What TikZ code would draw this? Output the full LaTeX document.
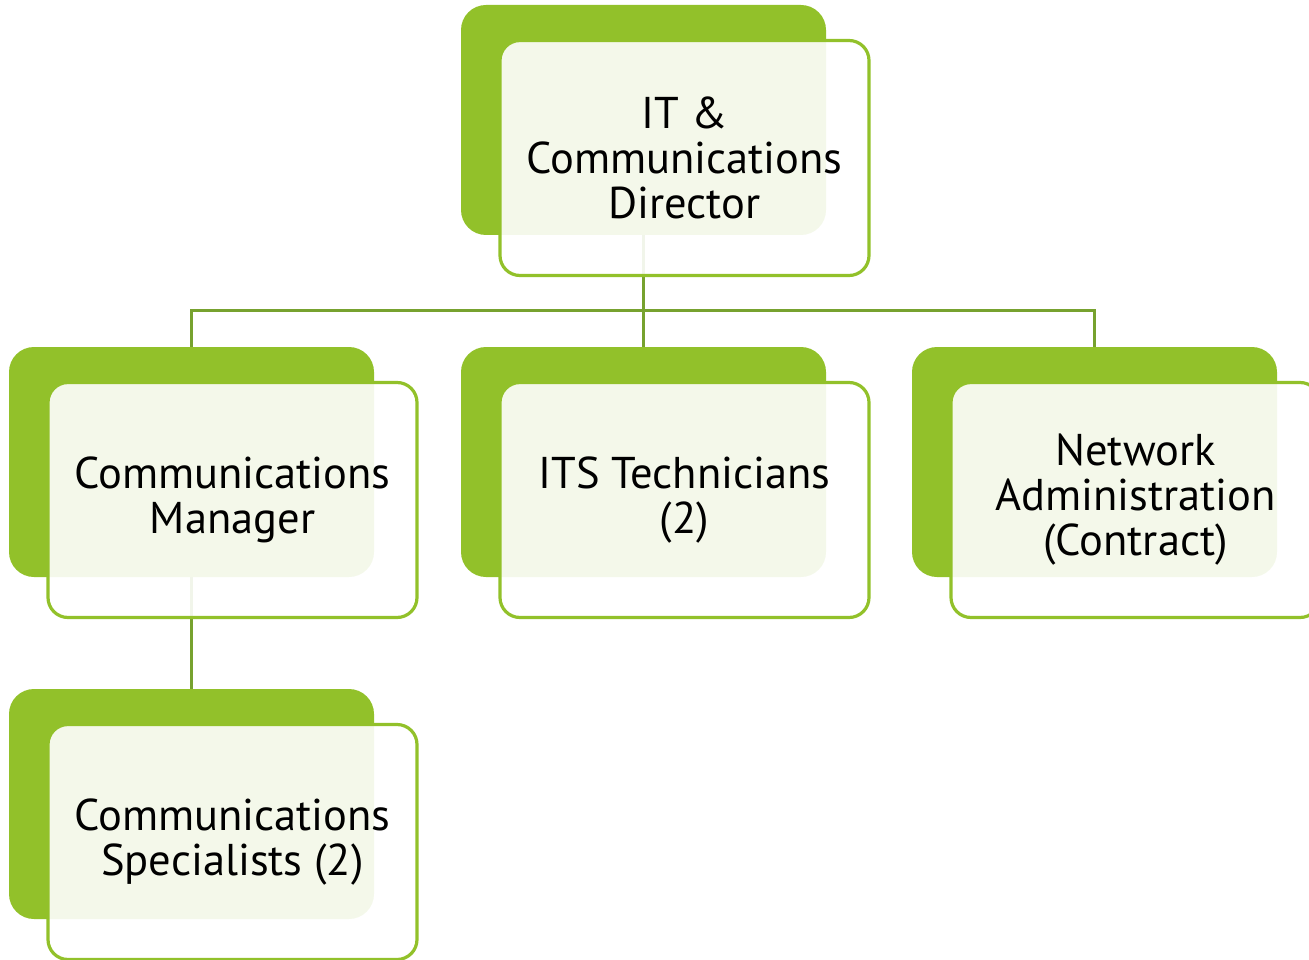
\documentclass[tikz,border=0pt]{standalone}
\usepackage{fontspec}
\setmainfont{PT Sans}
\usepackage{xcolor}
\usepackage{tikz}
\usetikzlibrary{shapes,positioning}

\definecolor{leafgreen}{HTML}{92C12A}
\definecolor{stemgreen}{HTML}{77A22F}

\begin{document}
\begin{tikzpicture}[x=1pt,y=-1pt,
      backbox/.style={fill=leafgreen, rounded corners=25pt,
        minimum width=365pt, minimum height=230pt, inner sep=0pt},
      frontbox/.style={draw=leafgreen, line width=3.2pt, fill=white,
        fill opacity=0.9, text opacity=1, rounded corners=20pt,
        minimum width=369pt, minimum height=235pt, inner sep=0pt,
        align=center, font=\fontsize{44.5}{45}\selectfont, shift={(41,38)}},
      link/.style={draw=stemgreen, line width=3pt}]
    \useasboundingbox (0,0) rectangle (1309,960);
    % green cards behind
    \node[backbox] (dirback) at (643.5,120) {};
    \node[backbox] (mgrback) at (191.5,462) {};
    \node[backbox] (techback) at (643.5,462) {};
    \node[backbox] (netback) at (1094.5,462) {};
    \node[backbox] (specback) at (191.5,804) {};
    % connectors
    \coordinate (bus) at (643.5,310);
    \draw[link] (dirback.south) -- (bus) -- (techback.north);
    \draw[link] (mgrback.north) |- (bus) -| (netback.north);
    \draw[link] (mgrback.south) -- (specback.north);
    % text cards in front
    \node[frontbox] (dir) at (dirback) {IT \&\\Communications\\Director};
    \node[frontbox] (mgr) at (mgrback) {Communications\\Manager};
    \node[frontbox] (tech) at (techback) {ITS Technicians\\(2)};
    \node[frontbox] (net) at (netback) {Network\\Administration\\(Contract)};
    \node[frontbox] (spec) at (specback) {Communications\\Specialists (2)};
\end{tikzpicture}
\end{document}
